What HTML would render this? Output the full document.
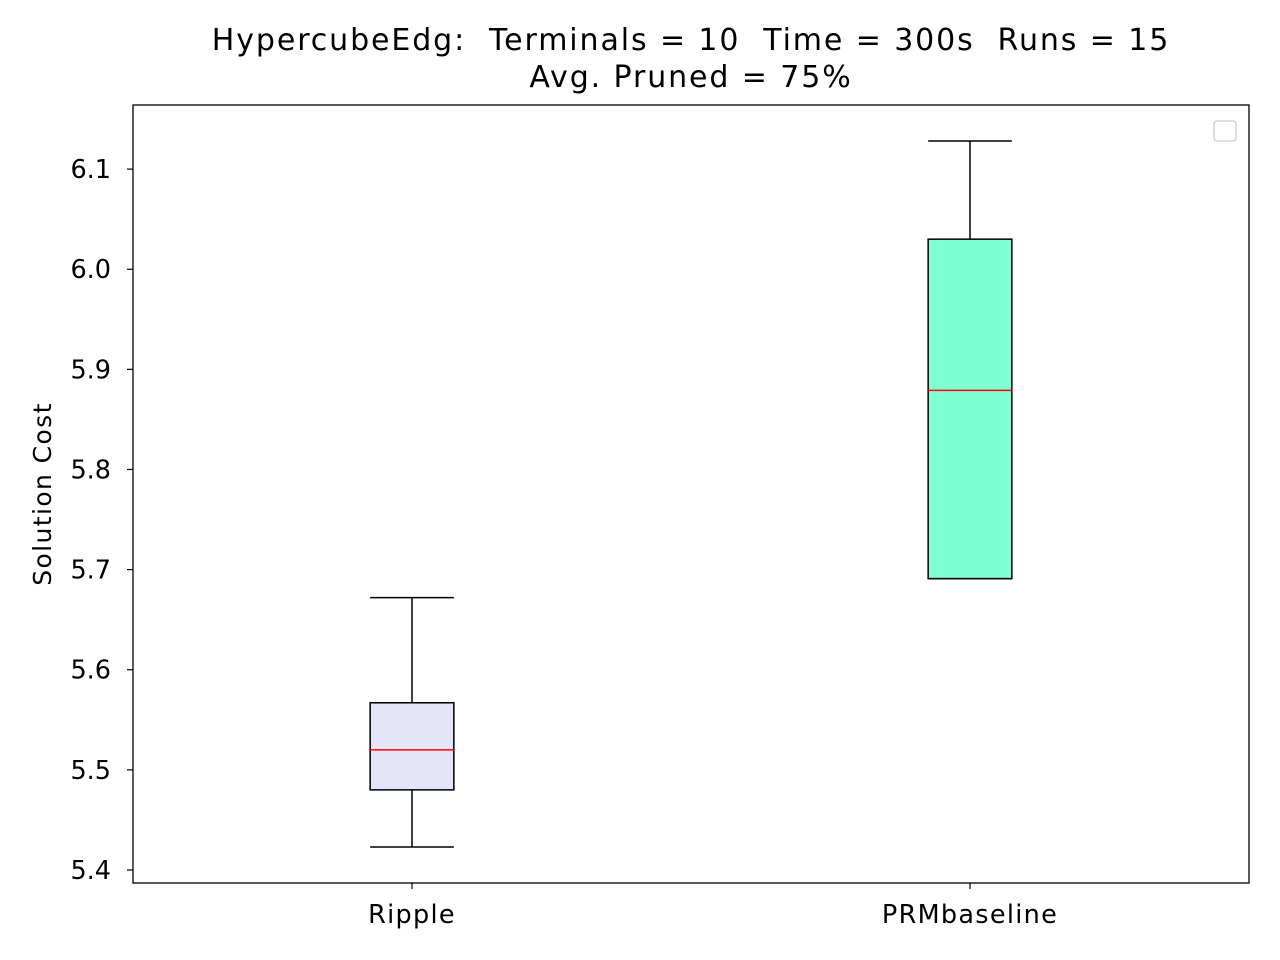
<!DOCTYPE html>
<html><head><meta charset="utf-8"><style>
body{margin:0;background:#fff;}
svg{display:block;font-family:"DejaVu Sans","Liberation Sans",sans-serif;}
text{white-space:pre;}
</style></head><body>
<svg id="chart" width="1280" height="960">
<text x="691" y="50" text-anchor="middle" font-size="30" letter-spacing="1.9" xml:space="preserve">HypercubeEdg:  Terminals = 10  Time = 300s  Runs = 15</text>
<text x="691" y="87" text-anchor="middle" font-size="30" letter-spacing="1.9">Avg. Pruned = 75%</text>
<text transform="translate(51,494) rotate(-90)" text-anchor="middle" font-size="25" letter-spacing="1.4">Solution Cost</text>
<g id="marks"></g>
<rect x="133" y="105" width="1116" height="778" fill="none" stroke="#000" stroke-width="1.3"/>
<rect x="1214" y="121" width="22" height="20" rx="3" fill="#fff" stroke="#ccc" stroke-width="1.3"/>
</svg>
<script>
const categories=["Ripple","PRMbaseline"];
const whiskerLow=[5.423,5.691];
const q1=[5.480,5.691];
const medians=[5.520,5.879];
const q3=[5.567,6.030];
const whiskerHigh=[5.672,6.128];
const fills=["#e6e6fa","#7fffd4"];
const yTicks=[5.4,5.5,5.6,5.7,5.8,5.9,6.0,6.1];
const yTickLabels=["5.4","5.5","5.6","5.7","5.8","5.9","6.0","6.1"];

const L=133,R=1249,T=105,B=883;
const yMin=5.387,yMax=6.164;
const y=v=>B-(v-yMin)/(yMax-yMin)*(B-T);
const x=i=>L+(i+1-0.5)/2*(R-L);
const bw=(0.15/2)*(R-L);
const ns="http://www.w3.org/2000/svg";
const g=document.getElementById("marks");
function mk(tag,attrs,txt){const e=document.createElementNS(ns,tag);for(const k in attrs)e.setAttribute(k,attrs[k]);if(txt!==undefined)e.textContent=txt;g.appendChild(e);return e;}

yTicks.forEach((t,i)=>{
  const tk=mk("line",{x1:L-6,x2:L,y1:y(t),y2:y(t),stroke:"#000","stroke-width":1.2});
  
  
  const lb=mk("text",{x:L-22,y:y(t)+9,"text-anchor":"end","font-size":25.5},yTickLabels[i]);
  
  
});
categories.forEach((c,i)=>{
  const cx=x(i);
  const tk=mk("line",{x1:cx,x2:cx,y1:B,y2:B+6,stroke:"#000","stroke-width":1.2});
  
  
  const lb=mk("text",{x:cx,y:B+40,"text-anchor":"middle","font-size":25.5,"letter-spacing":1.3},c);
  
  
  const w1=mk("line",{x1:cx,x2:cx,y1:y(whiskerLow[i]),y2:y(q1[i]),stroke:"#000","stroke-width":1.5});
  
  
  const w2=mk("line",{x1:cx,x2:cx,y1:y(q3[i]),y2:y(whiskerHigh[i]),stroke:"#000","stroke-width":1.5});
  
  
  const c1=mk("line",{x1:cx-bw/2,x2:cx+bw/2,y1:y(whiskerLow[i]),y2:y(whiskerLow[i]),stroke:"#000","stroke-width":1.5});
  
  
  const c2=mk("line",{x1:cx-bw/2,x2:cx+bw/2,y1:y(whiskerHigh[i]),y2:y(whiskerHigh[i]),stroke:"#000","stroke-width":1.5});
  
  
  const bx=mk("rect",{x:cx-bw/2,y:y(q3[i]),width:bw,height:y(q1[i])-y(q3[i]),fill:fills[i],stroke:"#000","stroke-width":1.5});
  
  
  const md=mk("line",{x1:cx-bw/2,x2:cx+bw/2,y1:y(medians[i]),y2:y(medians[i]),stroke:"#ff0000","stroke-width":1.5});
  
  
});
</script>
</body></html>
